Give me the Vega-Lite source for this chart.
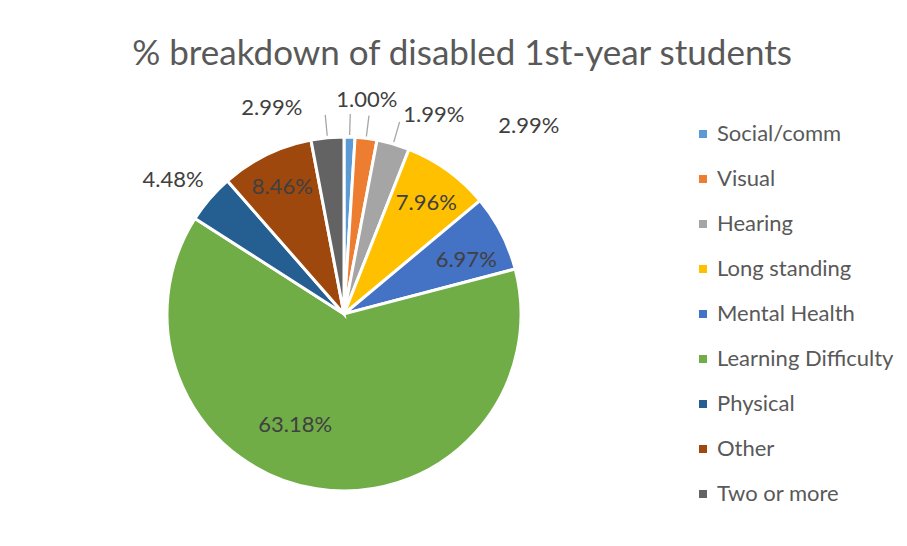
{
  "$schema": "https://vega.github.io/schema/vega-lite/v6.json",
  "width": 354,
  "height": 354,
  "autosize": {"type": "none"},
  "padding": {"left": 167, "top": 137, "right": 386, "bottom": 55},
  "background": "white",
  "config": {"view": {"stroke": null}},
  "title": {
    "text": "% breakdown of disabled 1st-year students",
    "font": "Lato",
    "fontSize": 35,
    "fontWeight": "normal",
    "color": "#595959",
    "anchor": "middle",
    "frame": "group",
    "dx": 118,
    "offset": 17
  },
  "data": {
    "values": [
      {"category": "Social/comm", "share": 0.0100, "idx": 1},
      {"category": "Visual", "share": 0.0199, "idx": 2},
      {"category": "Hearing", "share": 0.0299, "idx": 3},
      {"category": "Long standing", "share": 0.0796, "idx": 4},
      {"category": "Mental Health", "share": 0.0697, "idx": 5},
      {"category": "Learning Difficulty", "share": 0.6318, "idx": 6},
      {"category": "Physical", "share": 0.0448, "idx": 7},
      {"category": "Other", "share": 0.0846, "idx": 8},
      {"category": "Two or more", "share": 0.0299, "idx": 9}
    ]
  },
  "encoding": {
    "theta": {"field": "share", "type": "quantitative", "stack": true},
    "order": {"field": "idx", "type": "quantitative"}
  },
  "layer": [
    {
      "mark": {"type": "arc", "stroke": "white", "strokeWidth": 3},
      "encoding": {
        "color": {
          "field": "category",
          "type": "nominal",
          "scale": {
            "domain": ["Social/comm", "Visual", "Hearing", "Long standing", "Mental Health", "Learning Difficulty", "Physical", "Other", "Two or more"],
            "range": ["#5B9BD5", "#ED7D31", "#A5A5A5", "#FFC000", "#4472C4", "#70AD47", "#255E91", "#9E480E", "#636363"]
          },
          "legend": {
            "title": null,
            "orient": "none",
            "legendX": 525,
            "legendY": -14,
            "symbolType": "square",
            "symbolSize": 64,
            "symbolStrokeWidth": 0,
            "labelFont": "Lato",
            "labelFontSize": 22,
            "labelColor": "#595959",
            "labelLimit": 400,
            "rowPadding": 23,
            "labelOffset": 3
          }
        }
      }
    },
    {
      "mark": {"type": "arc", "innerRadius": 179, "outerRadius": 200, "padAngle": 0.6, "fill": "transparent", "stroke": "#A6A6A6", "strokeWidth": 1.3},
      "encoding": {
        "strokeOpacity": {
          "condition": {"test": "indexof(['Social/comm','Visual','Hearing','Two or more'], datum.category) >= 0", "value": 1},
          "value": 0
        }
      }
    },
    {
      "mark": {"type": "text", "radius": 215, "dx": 16, "dy": 1, "font": "Lato", "fontSize": 22, "fill": "#404040"},
      "encoding": {
        "text": {"field": "share", "format": ".2%"},
        "opacity": {"condition": {"test": "datum.category === 'Social/comm'", "value": 1}, "value": 0}
      }
    },
    {
      "mark": {"type": "text", "radius": 215, "dx": 63, "dy": 14, "font": "Lato", "fontSize": 22, "fill": "#404040"},
      "encoding": {
        "text": {"field": "share", "format": ".2%"},
        "opacity": {"condition": {"test": "datum.category === 'Visual'", "value": 1}, "value": 0}
      }
    },
    {
      "mark": {"type": "text", "radius": 215, "dx": 125, "dy": 19, "font": "Lato", "fontSize": 22, "fill": "#404040"},
      "encoding": {
        "text": {"field": "share", "format": ".2%"},
        "opacity": {"condition": {"test": "datum.category === 'Hearing'", "value": 1}, "value": 0}
      }
    },
    {
      "mark": {"type": "text", "radius": 215, "dx": -52, "dy": 8, "font": "Lato", "fontSize": 22, "fill": "#404040"},
      "encoding": {
        "text": {"field": "share", "format": ".2%"},
        "opacity": {"condition": {"test": "datum.category === 'Two or more'", "value": 1}, "value": 0}
      }
    },
    {
      "mark": {"type": "text", "radius": 215, "dx": -8, "dy": 6, "font": "Lato", "fontSize": 22, "fill": "#404040"},
      "encoding": {
        "text": {"field": "share", "format": ".2%"},
        "opacity": {"condition": {"test": "datum.category === 'Physical'", "value": 1}, "value": 0}
      }
    },
    {
      "mark": {"type": "text", "radius": 137, "dx": 2, "dy": 0, "font": "Lato", "fontSize": 22, "fill": "#404040"},
      "encoding": {
        "text": {"field": "share", "format": ".2%"},
        "opacity": {"condition": {"test": "datum.category === 'Long standing'", "value": 1}, "value": 0}
      }
    },
    {
      "mark": {"type": "text", "radius": 133, "dx": 4, "dy": 7, "font": "Lato", "fontSize": 22, "fill": "#404040"},
      "encoding": {
        "text": {"field": "share", "format": ".2%"},
        "opacity": {"condition": {"test": "datum.category === 'Mental Health'", "value": 1}, "value": 0}
      }
    },
    {
      "mark": {"type": "text", "radius": 121, "dx": -30, "dy": -9, "font": "Lato", "fontSize": 22, "fill": "#404040"},
      "encoding": {
        "text": {"field": "share", "format": ".2%"},
        "opacity": {"condition": {"test": "datum.category === 'Learning Difficulty'", "value": 1}, "value": 0}
      }
    },
    {
      "mark": {"type": "text", "radius": 141, "dx": 0, "dy": 0, "font": "Lato", "fontSize": 22, "fill": "#404040"},
      "encoding": {
        "text": {"field": "share", "format": ".2%"},
        "opacity": {"condition": {"test": "datum.category === 'Other'", "value": 1}, "value": 0}
      }
    }
  ]
}
